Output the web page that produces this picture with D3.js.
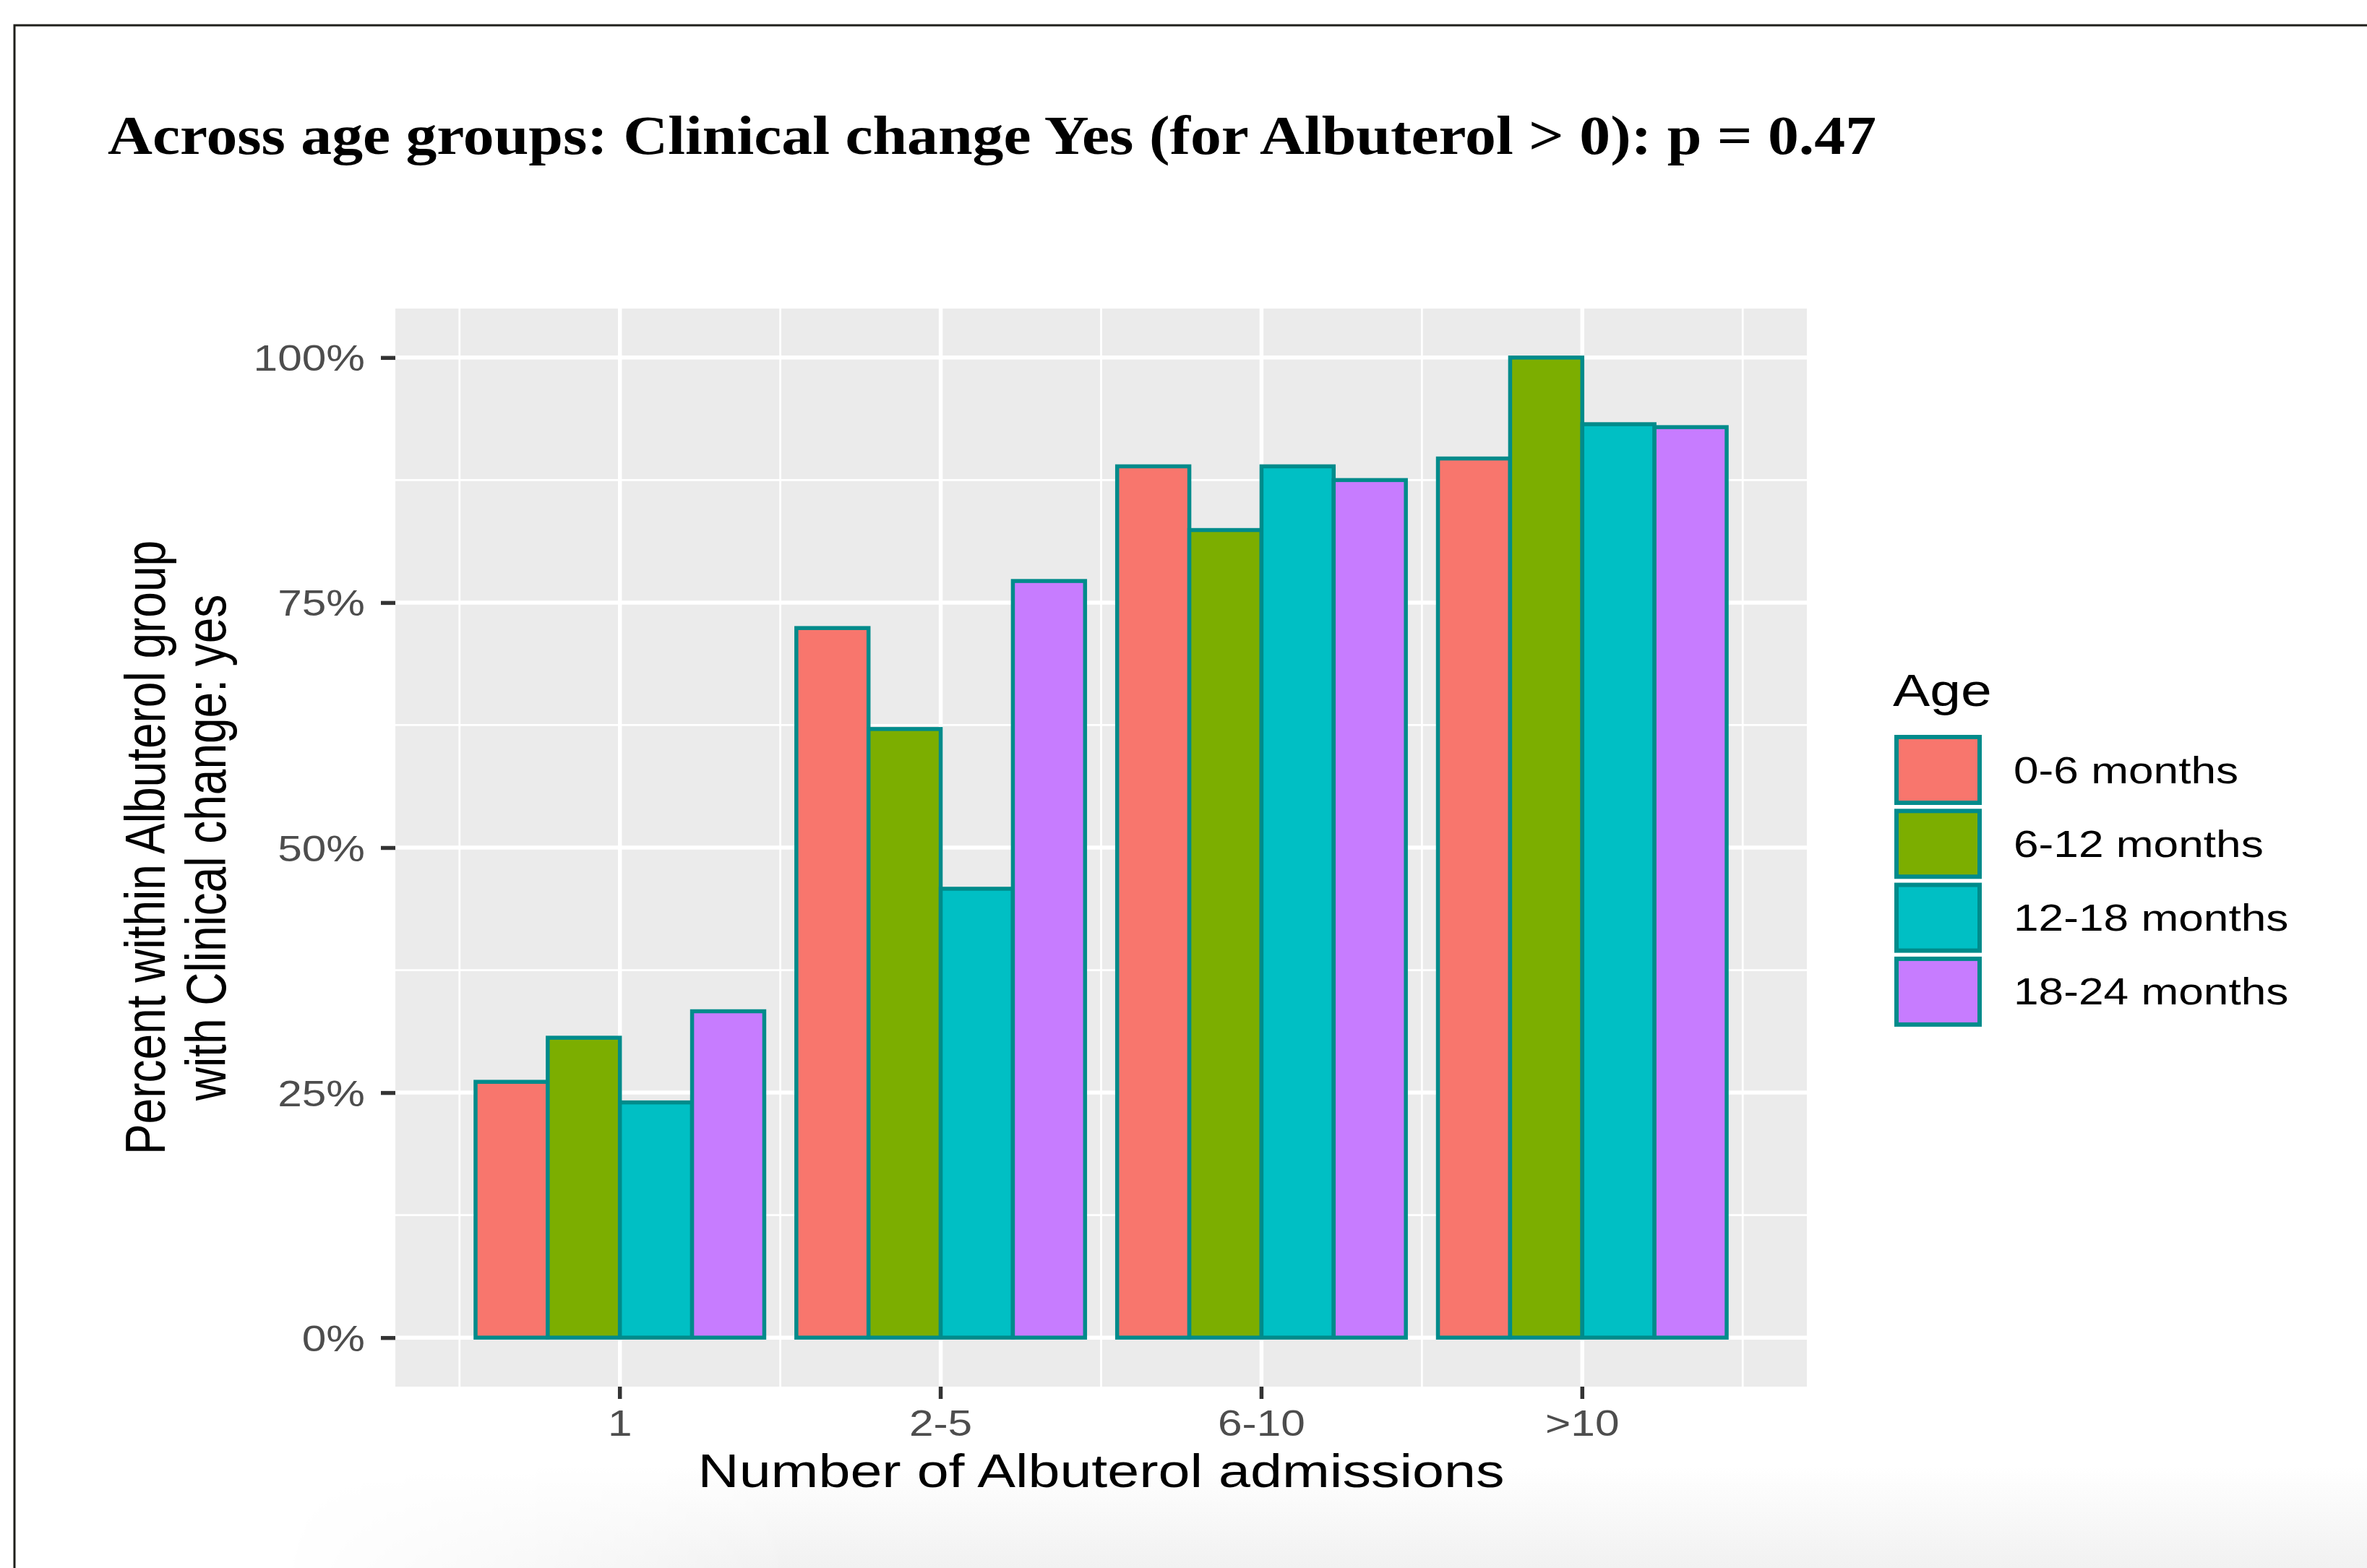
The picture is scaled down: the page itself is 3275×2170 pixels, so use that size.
<!DOCTYPE html>
<html>
<head>
<meta charset="utf-8">
<script src="https://cdn.jsdelivr.net/npm/d3@7"></script>
<style>
  html, body { margin: 0; padding: 0; background: #ffffff; }
  svg { display: block; }
</style>
</head>
<body>
<script>
// ---------------- data ----------------
const categories = ["1", "2-5", "6-10", ">10"];
const ages = ["0-6 months", "6-12 months", "12-18 months", "18-24 months"];
const ageColors = ["#F8766D", "#7CAE00", "#00BFC4", "#C77CFF"];
const pct_0_6   = [0.261, 0.724, 0.889, 0.897];
const pct_6_12  = [0.306, 0.621, 0.824, 1.000];
const pct_12_18 = [0.240, 0.458, 0.889, 0.932];
const pct_18_24 = [0.333, 0.772, 0.875, 0.929];
const yTicks = [0, 0.25, 0.5, 0.75, 1];
const yTickLabels = ["0%", "25%", "50%", "75%", "100%"];
const yMinorTicks = [0.125, 0.375, 0.625, 0.875];
const titleText = "Across age groups: Clinical change Yes (for Albuterol > 0): p = 0.47";
const xTitle = "Number of Albuterol admissions";
const yTitleLines = ["Percent within Albuterol group", "with Clinical change: yes"];
const legendTitle = "Age";

const seriesValues = [pct_0_6, pct_6_12, pct_12_18, pct_18_24];

// ---------------- layout ----------------
const W = 3275, H = 2170;
const panel = { left: 547, right: 2500, top: 427, bottom: 1919 };
const SX = 1.22;                 // horizontal stretch of the original picture
const SANS = "'Liberation Sans', Arial, sans-serif";
const OUTLINE = "#008B8B";
const LW = 5.5;

const svg = d3.select("body").append("svg")
  .attr("width", W).attr("height", H)
  .attr("viewBox", `0 0 ${W} ${H}`);

// ---- subtle bottom shadow ----
const defs = svg.append("defs");
const vg = defs.append("linearGradient").attr("id", "vshade").attr("x1", 0).attr("y1", 0).attr("x2", 0).attr("y2", 1);
vg.append("stop").attr("offset", "0%").attr("stop-color", "#ffffff");
vg.append("stop").attr("offset", "100%").attr("stop-color", "#f1f1f1");
const hg = defs.append("linearGradient").attr("id", "hfade").attr("x1", 0).attr("y1", 0).attr("x2", 1).attr("y2", 0);
hg.append("stop").attr("offset", "0%").attr("stop-color", "#000");
hg.append("stop").attr("offset", "25%").attr("stop-color", "#fff");
hg.append("stop").attr("offset", "100%").attr("stop-color", "#fff");
const mask = defs.append("mask").attr("id", "shadeMask");
mask.append("rect").attr("x", 380).attr("y", 2030).attr("width", W - 380).attr("height", H - 2030).attr("fill", "url(#hfade)");
svg.append("rect").attr("x", 380).attr("y", 2030).attr("width", W - 380).attr("height", H - 2030)
  .attr("fill", "url(#vshade)").attr("mask", "url(#shadeMask)");

// ---- frame ----
svg.append("path").attr("d", `M20,${H} V35 H${W}`)
  .attr("fill", "none").attr("stroke", "#1f1f1a").attr("stroke-width", 3);

// ---- title ----
svg.append("text")
  .attr("x", 149).attr("y", 213)
  .attr("font-family", "'Liberation Serif', 'Times New Roman', serif")
  .attr("font-weight", "bold")
  .attr("font-size", 76)
  .attr("textLength", 2447)
  .attr("lengthAdjust", "spacingAndGlyphs")
  .attr("fill", "#000")
  .text(titleText);

// ---- scales ----
const unit = (panel.right - panel.left) / 4.4;
const xOuter = d3.scaleBand().domain(categories)
  .range([panel.left + 0.2 * unit, panel.right - 0.2 * unit])
  .paddingInner(0).paddingOuter(0);
const xInner = d3.scaleBand().domain(ages)
  .range([0.05 * unit, 0.95 * unit]).padding(0);
const y = d3.scaleLinear().domain([-0.05, 1.05]).range([panel.bottom, panel.top]);

// ---- panel ----
svg.append("rect")
  .attr("x", panel.left).attr("y", panel.top)
  .attr("width", panel.right - panel.left).attr("height", panel.bottom - panel.top)
  .attr("fill", "#EBEBEB");

const grid = svg.append("g");
grid.selectAll(".hmin").data(yMinorTicks).join("line")
  .attr("x1", panel.left).attr("x2", panel.right)
  .attr("y1", d => y(d)).attr("y2", d => y(d))
  .attr("stroke", "#fff").attr("stroke-width", LW / 2);
const minorX = categories.map(c => xOuter(c)).concat([xOuter(categories[categories.length - 1]) + xOuter.bandwidth()]);
grid.selectAll(".vmin").data(minorX).join("line")
  .attr("x1", d => d).attr("x2", d => d)
  .attr("y1", panel.top).attr("y2", panel.bottom)
  .attr("stroke", "#fff").attr("stroke-width", LW / 2);
grid.selectAll(".hmaj").data(yTicks).join("line")
  .attr("x1", panel.left).attr("x2", panel.right)
  .attr("y1", d => y(d)).attr("y2", d => y(d))
  .attr("stroke", "#fff").attr("stroke-width", LW);
grid.selectAll(".vmaj").data(categories).join("line")
  .attr("x1", d => xOuter(d) + xOuter.bandwidth() / 2).attr("x2", d => xOuter(d) + xOuter.bandwidth() / 2)
  .attr("y1", panel.top).attr("y2", panel.bottom)
  .attr("stroke", "#fff").attr("stroke-width", LW);

// ---- bars ----
const barData = [];
categories.forEach((c, ci) => {
  ages.forEach((a, ai) => {
    barData.push({ cat: c, age: a, color: ageColors[ai], v: seriesValues[ai][ci] });
  });
});
svg.append("g").selectAll("rect").data(barData).join("rect")
  .attr("x", d => xOuter(d.cat) + xInner(d.age))
  .attr("width", xInner.bandwidth())
  .attr("y", d => y(d.v))
  .attr("height", d => y(0) - y(d.v))
  .attr("fill", d => d.color)
  .attr("stroke", OUTLINE)
  .attr("stroke-width", LW);

// ---- y axis ----
const yAxis = svg.append("g")
  .attr("transform", `translate(${panel.left},0)`)
  .call(d3.axisLeft(y).tickValues(yTicks).tickFormat((d, i) => yTickLabels[i]).tickSize(20).tickPadding(8));
yAxis.select(".domain").remove();
yAxis.selectAll(".tick line").attr("stroke", "#333333").attr("stroke-width", LW);
yAxis.selectAll(".tick text")
  .attr("x", null).attr("dy", null)
  .attr("transform", `translate(-42,18) scale(${SX},1)`)
  .attr("font-family", SANS).attr("font-size", 49.5).attr("fill", "#4D4D4D");

// ---- x axis ----
const xAxis = svg.append("g")
  .attr("transform", `translate(0,${panel.bottom})`)
  .call(d3.axisBottom(xOuter).tickSize(17).tickPadding(8));
xAxis.select(".domain").remove();
xAxis.selectAll(".tick line").attr("stroke", "#333333").attr("stroke-width", LW);
xAxis.selectAll(".tick text")
  .attr("y", null).attr("dy", null)
  .attr("transform", `translate(0,68) scale(${SX},1)`)
  .attr("font-family", SANS).attr("font-size", 49.5).attr("fill", "#4D4D4D");

// ---- axis titles ----
svg.append("text")
  .attr("transform", `translate(${(panel.left + panel.right) / 2},2058) scale(${SX},1)`)
  .attr("text-anchor", "middle")
  .attr("font-family", SANS).attr("font-size", 64.8).attr("fill", "#000")
  .text(xTitle);

const yMid = (panel.top + panel.bottom) / 2;
const yTitleX = [228, 312];
yTitleLines.forEach((line, i) => {
  svg.append("text")
    .attr("transform", `translate(${yTitleX[i]},${yMid}) rotate(-90) scale(1,${SX})`)
    .attr("text-anchor", "middle")
    .attr("font-family", SANS).attr("font-size", 64).attr("fill", "#000")
    .text(line);
});

// ---- legend ----
const leg = svg.append("g");
leg.append("text")
  .attr("transform", `translate(2619,977) scale(${SX},1)`)
  .attr("font-family", SANS).attr("font-size", 63).attr("fill", "#000")
  .text(legendTitle);
const keyPitch = 102.3, keyTop = 1020, keyW = 115, keyH = 91;
const items = leg.selectAll(".item").data(ages).join("g")
  .attr("transform", (d, i) => `translate(2624,${keyTop + i * keyPitch})`);
items.append("rect")
  .attr("width", keyW).attr("height", keyH)
  .attr("fill", (d, i) => ageColors[i])
  .attr("stroke", OUTLINE).attr("stroke-width", 6);
items.append("text")
  .attr("transform", `translate(162,${keyH / 2 + 18}) scale(${SX},1)`)
  .attr("font-family", SANS).attr("font-size", 51).attr("fill", "#000")
  .text(d => d);
</script>
</body>
</html>
